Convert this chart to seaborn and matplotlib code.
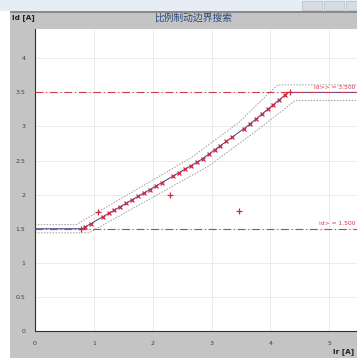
import matplotlib
matplotlib.use("Agg")
import matplotlib.pyplot as plt
from matplotlib.patches import Rectangle
from matplotlib.ticker import MultipleLocator, FixedLocator
import numpy as np
import pandas as pd
import seaborn as sns

# Operating characteristic (Ir, Id)
char_ir = [0.0, 0.8, 2.8, 3.6, 4.3, 5.47]
char_id = [1.5, 1.5, 2.5, 3.0, 3.5, 3.5]

# Tolerance band around the characteristic
upper_ir = [0.0, 0.7, 2.65, 3.45, 4.12, 5.47]
upper_id = [1.56, 1.56, 2.54, 3.05, 3.61, 3.61]
lower_ir = [0.0, 0.92, 2.95, 3.75, 4.42, 5.47]
lower_id = [1.44, 1.44, 2.42, 2.93, 3.38, 3.38]

# Search results lying on the boundary
hit_ir = [0.85, 0.95, 1.15, 1.25, 1.35, 1.45, 1.55, 1.65, 1.75, 1.85,
          1.95, 2.05, 2.15, 2.35, 2.45, 2.55, 2.65, 2.75, 2.85, 2.95,
          3.05, 3.15, 3.25, 3.35, 3.55, 3.65, 3.75, 3.85, 3.95, 4.05,
          4.15, 4.25]
hit_id = [1.525, 1.575, 1.675, 1.725, 1.775, 1.825, 1.875, 1.925, 1.975, 2.025,
          2.075, 2.125, 2.175, 2.275, 2.325, 2.375, 2.425, 2.475, 2.53, 2.59,
          2.66, 2.72, 2.78, 2.84, 2.97, 3.04, 3.11, 3.18, 3.25, 3.32,
          3.39, 3.46]

# Remaining test points
pt_ir = [0.78, 1.07, 2.29, 3.46, 4.33]
pt_id = [1.5, 1.74, 2.0, 1.76, 3.5]

# Pickup thresholds
thr_values = [1.5, 3.5]
thr_labels = ["Id> = 1.500", "Id>> = 3.500"]

x_ticks = [0, 1, 2, 3, 4, 5]
y_ticks = [0, 0.5, 1, 1.5, 2, 2.5, 3, 3.5, 4]

sns.set_style("white")
plt.rcParams["font.family"] = ["DejaVu Sans"]

W, H = 357, 358
fig = plt.figure(figsize=(W / 100, H / 100), dpi=100)
fig.patch.set_facecolor("white")

# Window frame: light top strip and gray panel
fig.add_artist(Rectangle((0, (H - 11) / H), 1, 11 / H, transform=fig.transFigure,
                         facecolor="#e6edf5", edgecolor="none", zorder=0))
fig.add_artist(Rectangle((10 / W, 0), 1, (H - 12) / H, transform=fig.transFigure,
                         facecolor="#c4c4c4", edgecolor="none", zorder=0))
fig.add_artist(Rectangle((10 / W, (H - 12.5) / H), 1, 1.2 / H, transform=fig.transFigure,
                         facecolor="#8a8a8a", edgecolor="none", zorder=1))
for x0 in (302, 324, 346):
    fig.add_artist(Rectangle((x0 / W, (H - 10) / H), 20 / W, 9 / H, transform=fig.transFigure,
                             facecolor="#d8dde3", edgecolor="#b8bec6", linewidth=0.5, zorder=1))

ax = fig.add_axes([35 / W, (H - 331) / H, (W - 35) / W, (331 - 29) / H])
ax.set_facecolor("white")
ax.set_xlim(0, 5.47)
ax.set_ylim(0, 4.43)

# Grid
for gx in x_ticks[1:]:
    ax.axvline(gx, color="#e8e8e8", linewidth=0.6, zorder=0)
for gy in np.arange(0.5, 4.5, 0.5):
    ax.axhline(gy, color="#e8e8e8", linewidth=0.6, zorder=0)

# Tolerance band
sns.lineplot(x=upper_ir, y=upper_id, ax=ax, color="#9a9a9a", linewidth=0.7,
             linestyle=(0, (1.5, 1.5)), sort=False, zorder=2)
sns.lineplot(x=lower_ir, y=lower_id, ax=ax, color="#9a9a9a", linewidth=0.7,
             linestyle=(0, (1.5, 1.5)), sort=False, zorder=2)

# Characteristic
sns.lineplot(x=char_ir, y=char_id, ax=ax, color="#3b3b8f", linewidth=0.7,
             sort=False, zorder=3)

# Threshold lines
for v, lab in zip(thr_values, thr_labels):
    ax.axhline(v, color="#d23a48", linewidth=0.8, linestyle=(0, (7, 2.5, 1, 2.5)), zorder=4)
    ax.text(5.45, v + 0.04, lab, color="#d23a48", fontsize=4.3,
            ha="right", va="bottom", zorder=5)

# Test results
sns.scatterplot(x=hit_ir, y=hit_id, ax=ax, marker="x", color="#d02840",
                s=8, linewidth=0.9, zorder=6)
sns.scatterplot(x=pt_ir, y=pt_id, ax=ax, marker="+", color="#d02840",
                s=14, linewidth=0.9, zorder=6)

# Axes styling
for side in ("top", "right"):
    ax.spines[side].set_visible(False)
for side in ("left", "bottom"):
    ax.spines[side].set_color("#303030")
    ax.spines[side].set_linewidth(0.8)

ax.xaxis.set_major_locator(FixedLocator(x_ticks))
ax.yaxis.set_major_locator(FixedLocator(y_ticks))
ax.xaxis.set_minor_locator(MultipleLocator(0.1))
ax.yaxis.set_minor_locator(MultipleLocator(0.1))
ax.set_xticklabels([str(t) for t in x_ticks])
ax.set_yticklabels([("%g" % t) for t in y_ticks])
ax.tick_params(axis="both", which="major", direction="out", length=4, width=0.8,
               color="#303030", labelsize=4.5, labelcolor="#404040", pad=3)
ax.tick_params(axis="both", which="minor", direction="out", length=1.8, width=0.6,
               color="#303030")
ax.set_xlabel("")
ax.set_ylabel("")

# Header texts
fig.text(193 / W, 1 - 18 / H, "比例制动边界搜索", fontsize=7, color="#2c4a80",
         ha="center", va="center", family=["Noto Sans CJK SC", "DejaVu Sans"])
fig.text(12 / W, 1 - 18 / H, "Id [A]", fontsize=5.2, color="#202020",
         ha="left", va="center", fontweight="bold")
fig.text(354 / W, 1 - 352 / H, "Ir [A]", fontsize=5.2, color="#202020",
         ha="right", va="center", fontweight="bold")

fig.savefig("out.png", dpi=100, facecolor=fig.get_facecolor())
